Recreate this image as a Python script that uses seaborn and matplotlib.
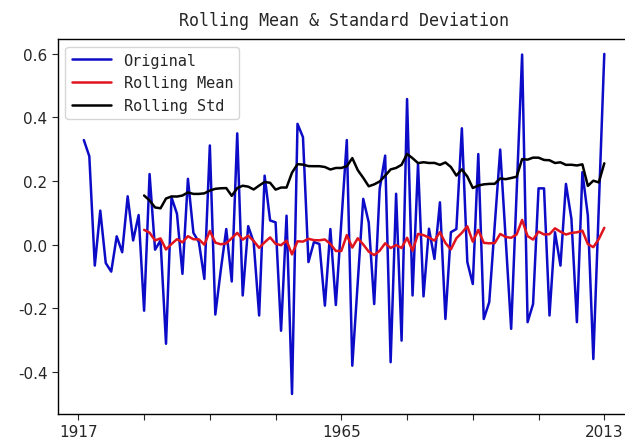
import numpy as np
import pandas as pd
import matplotlib
matplotlib.use("Agg")
import matplotlib.pyplot as plt
import seaborn as sns

years = list(range(1918, 2014))
values = [
    0.329, 0.278, -0.066, 0.107, -0.058, -0.085, 0.026, -0.024, 0.152, 0.013,
    0.093, -0.208, 0.222, -0.016, 0.013, -0.312, 0.149, 0.097, -0.092, 0.207,
    0.037, 0.008, -0.108, 0.312, -0.220, -0.080, 0.049, -0.116, 0.350, -0.160,
    0.058, 0.008, -0.223, 0.217, 0.076, 0.070, -0.271, 0.091, -0.470, 0.380,
    0.338, -0.055, 0.008, 0.002, -0.192, 0.049, -0.190, 0.070, 0.329, -0.381,
    -0.118, 0.144, 0.070, -0.187, 0.175, 0.280, -0.370, 0.160, -0.302, 0.458,
    -0.160, 0.254, -0.163, 0.050, -0.045, 0.133, -0.234, 0.039, 0.049, 0.366,
    -0.055, -0.124, 0.285, -0.234, -0.181, 0.060, 0.299, 0.018, -0.265, 0.165,
    0.598, -0.244, -0.187, 0.177, 0.177, -0.223, 0.039, -0.066, 0.191, 0.081,
    -0.244, 0.228, 0.091, -0.360, 0.120, 0.600,
]
window = 12
tick_years = [1917, 1929, 1941, 1953, 1965, 1977, 1989, 2001, 2013]
tick_labels = ["1917", "", "", "", "1965", "", "", "", "2013"]

series = pd.Series(values, index=years)
rolmean = series.rolling(window).mean()
rolstd = series.rolling(window).std()

sns.set_style("ticks")
plt.rcParams["axes.unicode_minus"] = False
plt.rcParams["font.family"] = ["DejaVu Sans"]

fig = plt.figure(figsize=(6.25, 4.39), dpi=100)
ax = fig.add_axes([0.0925, 0.0554, 0.916, 0.8535])

sns.lineplot(x=years, y=values, color="#0c0cc8", linewidth=1.8, label="Original", ax=ax)
sns.lineplot(x=years, y=rolmean.values, color="#e0141e", linewidth=1.8, label="Rolling Mean", ax=ax)
sns.lineplot(x=years, y=rolstd.values, color="black", linewidth=1.8, label="Rolling Std", ax=ax)

ax.set_xlim(1913.25, 2017.75)
ax.set_ylim(-0.532, 0.647)
ax.set_xticks(tick_years)
ax.set_xticklabels(tick_labels)
ax.set_yticks([-0.4, -0.2, 0.0, 0.2, 0.4, 0.6])
ax.set_yticklabels(["-0.4", "-0.2", "0.0", "0.2", "0.4", "0.6"])
ax.tick_params(axis="both", labelsize=11, length=4, direction="out")
for s in ax.spines.values():
    s.set_color("black")
    s.set_linewidth(1.0)

ax.set_title("Rolling Mean & Standard Deviation", fontsize=12,
             family="DejaVu Sans Mono", pad=10)
leg = ax.legend(loc="upper left", prop={"family": "DejaVu Sans Mono", "size": 11},
                frameon=True, fancybox=True, handlelength=2.6)
leg.get_frame().set_edgecolor("#cccccc")

fig.savefig("out.png", dpi=100)
